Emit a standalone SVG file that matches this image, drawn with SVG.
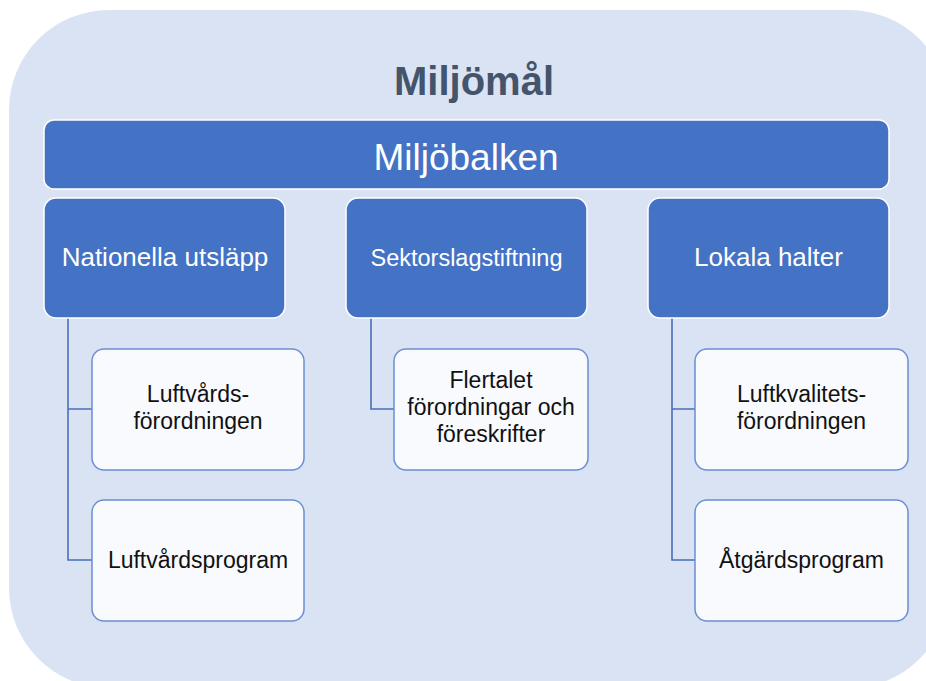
<svg xmlns="http://www.w3.org/2000/svg" width="926" height="681" viewBox="0 0 926 681">
<style>
.bg{fill:#DAE3F3}
.main{fill:#4472C4;stroke:#FFFFFF;stroke-width:1.5}
.child{fill:#F8FAFE;stroke:#6A8FD3;stroke-width:1.5}
.conn{fill:none;stroke:#4A6FB8;stroke-width:1.6}
text{font-family:"Liberation Sans",Arial,sans-serif;text-anchor:middle}
.title{font-size:40px;font-weight:bold;fill:#44546A}
.w{fill:#FFFFFF}
.b{fill:#111111;font-size:23px}
</style>
<rect class="bg" x="9" y="10" width="940" height="678" rx="100" ry="100"/>
<text class="title" x="474" y="95">Miljömål</text>
<g id="connectors">
<path class="conn" d="M68 318 V560 H92 M68 409 H92"/>
<path class="conn" d="M371 318 V409 H394"/>
<path class="conn" d="M672 318 V560 H695 M672 409 H695"/>
</g>
<g id="miljobalken">
<rect class="main" x="44" y="120" width="845" height="69" rx="10"/>
<text class="w" x="466" y="170" font-size="37">Miljöbalken</text>
</g>
<g id="nationella">
<rect class="main" x="44" y="198" width="241" height="120" rx="12"/>
<text class="w" x="165" y="266" font-size="26">Nationella utsläpp</text>
</g>
<g id="sektors">
<rect class="main" x="346" y="198" width="241" height="120" rx="12"/>
<text class="w" x="466.5" y="266" font-size="23.5">Sektorslagstiftning</text>
</g>
<g id="lokala">
<rect class="main" x="648" y="198" width="241" height="120" rx="12"/>
<text class="w" x="768.5" y="266" font-size="26">Lokala halter</text>
</g>
<g id="luftvardsforordningen">
<rect class="child" x="92" y="349" width="212" height="121" rx="12"/>
<text class="b" x="198" y="402">Luftvårds-</text>
<text class="b" x="198" y="429">förordningen</text>
</g>
<g id="luftvardsprogram">
<rect class="child" x="92" y="500" width="212" height="121" rx="12"/>
<text class="b" x="198" y="568">Luftvårdsprogram</text>
</g>
<g id="flertalet">
<rect class="child" x="394" y="349" width="194" height="121" rx="12"/>
<text class="b" x="491" y="388">Flertalet</text>
<text class="b" x="491" y="415">förordningar och</text>
<text class="b" x="491" y="442">föreskrifter</text>
</g>
<g id="luftkvalitetsforordningen">
<rect class="child" x="695" y="349" width="213" height="121" rx="12"/>
<text class="b" x="801.5" y="402">Luftkvalitets-</text>
<text class="b" x="801.5" y="429">förordningen</text>
</g>
<g id="atgardsprogram">
<rect class="child" x="695" y="500" width="213" height="121" rx="12"/>
<text class="b" x="801.5" y="568">Åtgärdsprogram</text>
</g>
</svg>
